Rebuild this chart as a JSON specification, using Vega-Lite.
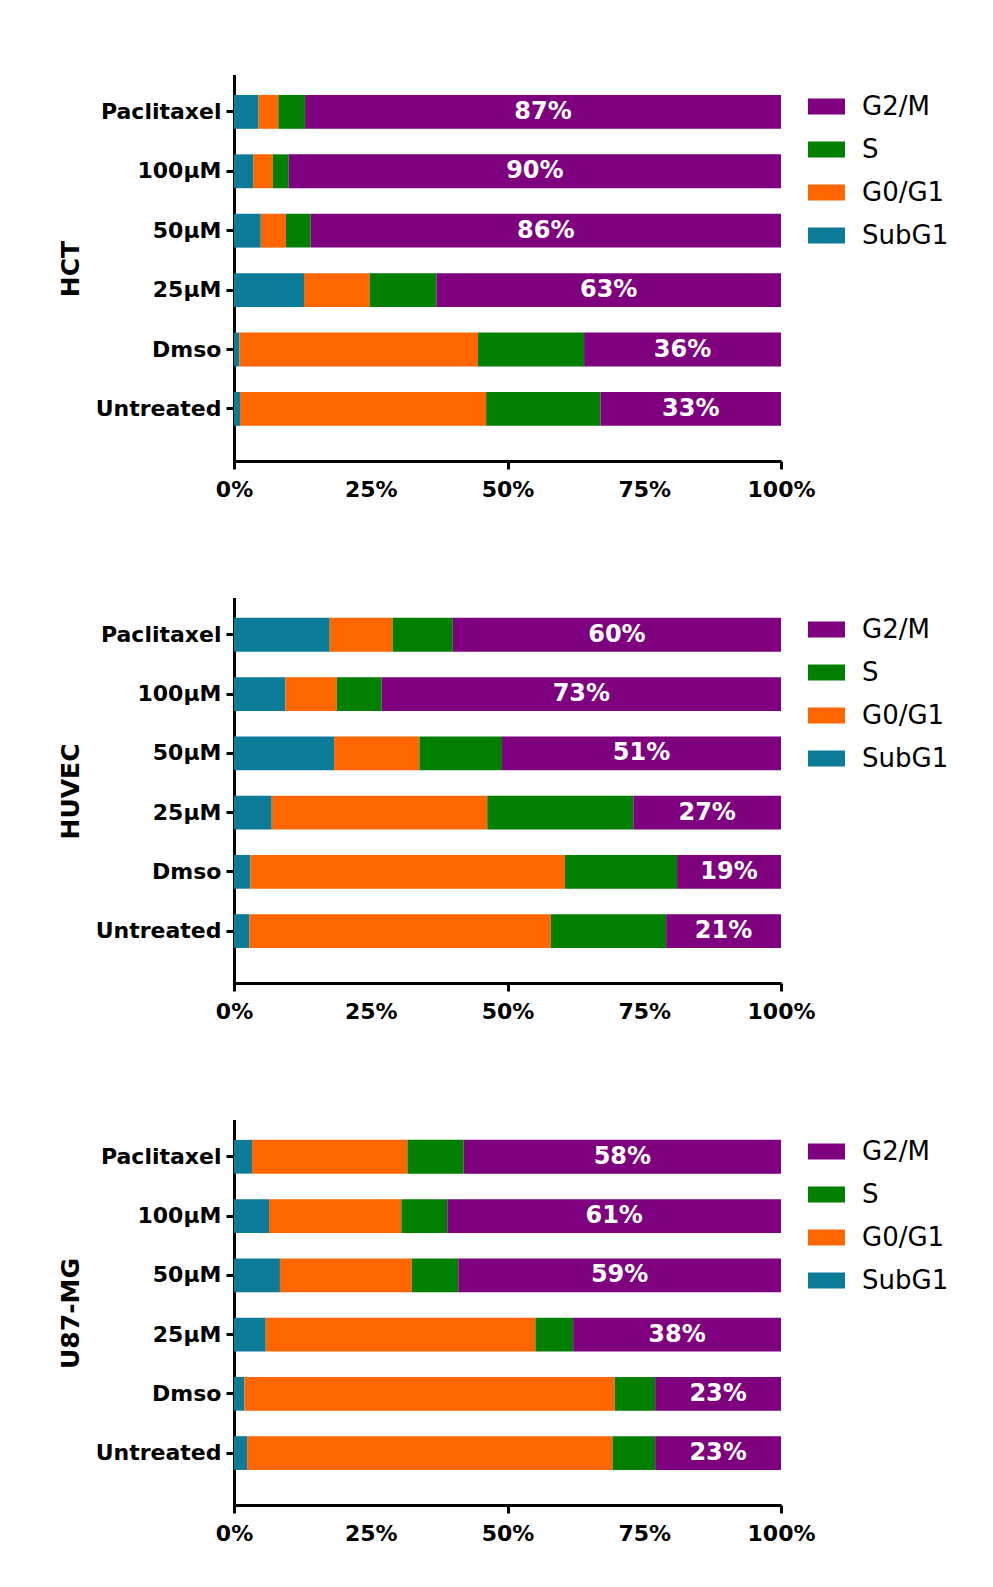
{
  "$schema": "https://vega.github.io/schema/vega-lite/v6.json",
  "padding": {"left": 58, "top": 76, "right": 5, "bottom": 5},
  "background": "white",
  "data": {
    "values": [
      {"cell": "HCT", "treatment": "Paclitaxel", "phase": "SubG1", "pct": 4.5},
      {"cell": "HCT", "treatment": "Paclitaxel", "phase": "G0/G1", "pct": 3.6},
      {"cell": "HCT", "treatment": "Paclitaxel", "phase": "S", "pct": 4.9},
      {"cell": "HCT", "treatment": "Paclitaxel", "phase": "G2/M", "pct": 87},
      {"cell": "HCT", "treatment": "100µM", "phase": "SubG1", "pct": 3.5},
      {"cell": "HCT", "treatment": "100µM", "phase": "G0/G1", "pct": 3.6},
      {"cell": "HCT", "treatment": "100µM", "phase": "S", "pct": 2.9},
      {"cell": "HCT", "treatment": "100µM", "phase": "G2/M", "pct": 90},
      {"cell": "HCT", "treatment": "50µM", "phase": "SubG1", "pct": 4.9},
      {"cell": "HCT", "treatment": "50µM", "phase": "G0/G1", "pct": 4.6},
      {"cell": "HCT", "treatment": "50µM", "phase": "S", "pct": 4.5},
      {"cell": "HCT", "treatment": "50µM", "phase": "G2/M", "pct": 86},
      {"cell": "HCT", "treatment": "25µM", "phase": "SubG1", "pct": 12.8},
      {"cell": "HCT", "treatment": "25µM", "phase": "G0/G1", "pct": 12.0},
      {"cell": "HCT", "treatment": "25µM", "phase": "S", "pct": 12.2},
      {"cell": "HCT", "treatment": "25µM", "phase": "G2/M", "pct": 63},
      {"cell": "HCT", "treatment": "Dmso", "phase": "SubG1", "pct": 1.0},
      {"cell": "HCT", "treatment": "Dmso", "phase": "G0/G1", "pct": 43.6},
      {"cell": "HCT", "treatment": "Dmso", "phase": "S", "pct": 19.4},
      {"cell": "HCT", "treatment": "Dmso", "phase": "G2/M", "pct": 36},
      {"cell": "HCT", "treatment": "Untreated", "phase": "SubG1", "pct": 1.1},
      {"cell": "HCT", "treatment": "Untreated", "phase": "G0/G1", "pct": 45.0},
      {"cell": "HCT", "treatment": "Untreated", "phase": "S", "pct": 20.9},
      {"cell": "HCT", "treatment": "Untreated", "phase": "G2/M", "pct": 33},

      {"cell": "HUVEC", "treatment": "Paclitaxel", "phase": "SubG1", "pct": 17.5},
      {"cell": "HUVEC", "treatment": "Paclitaxel", "phase": "G0/G1", "pct": 11.5},
      {"cell": "HUVEC", "treatment": "Paclitaxel", "phase": "S", "pct": 11.0},
      {"cell": "HUVEC", "treatment": "Paclitaxel", "phase": "G2/M", "pct": 60},
      {"cell": "HUVEC", "treatment": "100µM", "phase": "SubG1", "pct": 9.4},
      {"cell": "HUVEC", "treatment": "100µM", "phase": "G0/G1", "pct": 9.4},
      {"cell": "HUVEC", "treatment": "100µM", "phase": "S", "pct": 8.2},
      {"cell": "HUVEC", "treatment": "100µM", "phase": "G2/M", "pct": 73},
      {"cell": "HUVEC", "treatment": "50µM", "phase": "SubG1", "pct": 18.3},
      {"cell": "HUVEC", "treatment": "50µM", "phase": "G0/G1", "pct": 15.6},
      {"cell": "HUVEC", "treatment": "50µM", "phase": "S", "pct": 15.1},
      {"cell": "HUVEC", "treatment": "50µM", "phase": "G2/M", "pct": 51},
      {"cell": "HUVEC", "treatment": "25µM", "phase": "SubG1", "pct": 6.9},
      {"cell": "HUVEC", "treatment": "25µM", "phase": "G0/G1", "pct": 39.4},
      {"cell": "HUVEC", "treatment": "25µM", "phase": "S", "pct": 26.7},
      {"cell": "HUVEC", "treatment": "25µM", "phase": "G2/M", "pct": 27},
      {"cell": "HUVEC", "treatment": "Dmso", "phase": "SubG1", "pct": 3.0},
      {"cell": "HUVEC", "treatment": "Dmso", "phase": "G0/G1", "pct": 57.5},
      {"cell": "HUVEC", "treatment": "Dmso", "phase": "S", "pct": 20.5},
      {"cell": "HUVEC", "treatment": "Dmso", "phase": "G2/M", "pct": 19},
      {"cell": "HUVEC", "treatment": "Untreated", "phase": "SubG1", "pct": 2.8},
      {"cell": "HUVEC", "treatment": "Untreated", "phase": "G0/G1", "pct": 55.1},
      {"cell": "HUVEC", "treatment": "Untreated", "phase": "S", "pct": 21.1},
      {"cell": "HUVEC", "treatment": "Untreated", "phase": "G2/M", "pct": 21},

      {"cell": "U87-MG", "treatment": "Paclitaxel", "phase": "SubG1", "pct": 3.3},
      {"cell": "U87-MG", "treatment": "Paclitaxel", "phase": "G0/G1", "pct": 28.4},
      {"cell": "U87-MG", "treatment": "Paclitaxel", "phase": "S", "pct": 10.3},
      {"cell": "U87-MG", "treatment": "Paclitaxel", "phase": "G2/M", "pct": 58},
      {"cell": "U87-MG", "treatment": "100µM", "phase": "SubG1", "pct": 6.4},
      {"cell": "U87-MG", "treatment": "100µM", "phase": "G0/G1", "pct": 24.2},
      {"cell": "U87-MG", "treatment": "100µM", "phase": "S", "pct": 8.4},
      {"cell": "U87-MG", "treatment": "100µM", "phase": "G2/M", "pct": 61},
      {"cell": "U87-MG", "treatment": "50µM", "phase": "SubG1", "pct": 8.4},
      {"cell": "U87-MG", "treatment": "50µM", "phase": "G0/G1", "pct": 24.1},
      {"cell": "U87-MG", "treatment": "50µM", "phase": "S", "pct": 8.5},
      {"cell": "U87-MG", "treatment": "50µM", "phase": "G2/M", "pct": 59},
      {"cell": "U87-MG", "treatment": "25µM", "phase": "SubG1", "pct": 5.8},
      {"cell": "U87-MG", "treatment": "25µM", "phase": "G0/G1", "pct": 49.3},
      {"cell": "U87-MG", "treatment": "25µM", "phase": "S", "pct": 6.9},
      {"cell": "U87-MG", "treatment": "25µM", "phase": "G2/M", "pct": 38},
      {"cell": "U87-MG", "treatment": "Dmso", "phase": "SubG1", "pct": 1.9},
      {"cell": "U87-MG", "treatment": "Dmso", "phase": "G0/G1", "pct": 67.7},
      {"cell": "U87-MG", "treatment": "Dmso", "phase": "S", "pct": 7.4},
      {"cell": "U87-MG", "treatment": "Dmso", "phase": "G2/M", "pct": 23},
      {"cell": "U87-MG", "treatment": "Untreated", "phase": "SubG1", "pct": 2.4},
      {"cell": "U87-MG", "treatment": "Untreated", "phase": "G0/G1", "pct": 66.8},
      {"cell": "U87-MG", "treatment": "Untreated", "phase": "S", "pct": 7.8},
      {"cell": "U87-MG", "treatment": "Untreated", "phase": "G2/M", "pct": 23}
    ]
  },
  "transform": [
    {"calculate": "indexof(['SubG1', 'G0/G1', 'S', 'G2/M'], datum.phase)", "as": "stackRank"},
    {"calculate": "datum.pct + '%'", "as": "pctLabel"}
  ],
  "spacing": 138,
  "bounds": "flush",
  "resolve": {"legend": {"color": "independent"}},
  "vconcat": [
    {
      "width": 547, "height": 385,
      "transform": [{"filter": "datum.cell === 'HCT'"}],
      "encoding": {
        "y": {"field": "treatment", "type": "nominal", "title": "HCT",
              "scale": {"domain": ["Paclitaxel", "100µM", "50µM", "25µM", "Dmso", "Untreated"], "paddingInner": 0.43, "paddingOuter": 0.455, "align": 0.35}}
      },
      "layer": [
        {"mark": {"type": "bar"},
         "encoding": {
           "x": {"field": "pct", "type": "quantitative", "stack": "zero", "title": null,
                 "scale": {"domain": [0, 100], "nice": false},
                 "axis": {"values": [0, 25, 50, 75, 100], "labelExpr": "datum.value + '%'",
                          "tickOpacity": {"condition": {"test": "datum.value === 25 || datum.value === 75", "value": 0}, "value": 1}}},
           "color": {"field": "phase", "type": "nominal", "title": null,
                     "scale": {"domain": ["G2/M", "S", "G0/G1", "SubG1"], "range": ["#7f007f", "#007f00", "#ff6600", "#0b7b98"]}},
           "order": {"field": "stackRank", "type": "quantitative"}
         }},
        {"transform": [{"filter": "datum.phase === 'G2/M'"}, {"calculate": "100 - datum.pct / 2", "as": "mid"}],
         "mark": {"type": "text", "color": "white", "font": "DejaVu Sans", "fontWeight": "bold", "fontSize": 24, "align": "center", "baseline": "middle"},
         "encoding": {
           "x": {"field": "mid", "type": "quantitative"},
           "text": {"field": "pctLabel", "type": "nominal"}
         }}
      ]
    },
    {
      "width": 547, "height": 384,
      "transform": [{"filter": "datum.cell === 'HUVEC'"}],
      "encoding": {
        "y": {"field": "treatment", "type": "nominal", "title": "HUVEC",
              "scale": {"domain": ["Paclitaxel", "100µM", "50µM", "25µM", "Dmso", "Untreated"], "paddingInner": 0.43, "paddingOuter": 0.455, "align": 0.35}}
      },
      "layer": [
        {"mark": {"type": "bar"},
         "encoding": {
           "x": {"field": "pct", "type": "quantitative", "stack": "zero", "title": null,
                 "scale": {"domain": [0, 100], "nice": false},
                 "axis": {"values": [0, 25, 50, 75, 100], "labelExpr": "datum.value + '%'",
                          "tickOpacity": {"condition": {"test": "datum.value === 25 || datum.value === 75", "value": 0}, "value": 1}}},
           "color": {"field": "phase", "type": "nominal", "title": null,
                     "scale": {"domain": ["G2/M", "S", "G0/G1", "SubG1"], "range": ["#7f007f", "#007f00", "#ff6600", "#0b7b98"]}},
           "order": {"field": "stackRank", "type": "quantitative"}
         }},
        {"transform": [{"filter": "datum.phase === 'G2/M'"}, {"calculate": "100 - datum.pct / 2", "as": "mid"}],
         "mark": {"type": "text", "color": "white", "font": "DejaVu Sans", "fontWeight": "bold", "fontSize": 24, "align": "center", "baseline": "middle"},
         "encoding": {
           "x": {"field": "mid", "type": "quantitative"},
           "text": {"field": "pctLabel", "type": "nominal"}
         }}
      ]
    },
    {
      "width": 547, "height": 384,
      "transform": [{"filter": "datum.cell === 'U87-MG'"}],
      "encoding": {
        "y": {"field": "treatment", "type": "nominal", "title": "U87-MG",
              "scale": {"domain": ["Paclitaxel", "100µM", "50µM", "25µM", "Dmso", "Untreated"], "paddingInner": 0.43, "paddingOuter": 0.455, "align": 0.35}}
      },
      "layer": [
        {"mark": {"type": "bar"},
         "encoding": {
           "x": {"field": "pct", "type": "quantitative", "stack": "zero", "title": null,
                 "scale": {"domain": [0, 100], "nice": false},
                 "axis": {"values": [0, 25, 50, 75, 100], "labelExpr": "datum.value + '%'",
                          "tickOpacity": {"condition": {"test": "datum.value === 25 || datum.value === 75", "value": 0}, "value": 1}}},
           "color": {"field": "phase", "type": "nominal", "title": null,
                     "scale": {"domain": ["G2/M", "S", "G0/G1", "SubG1"], "range": ["#7f007f", "#007f00", "#ff6600", "#0b7b98"]}},
           "order": {"field": "stackRank", "type": "quantitative"}
         }},
        {"transform": [{"filter": "datum.phase === 'G2/M'"}, {"calculate": "100 - datum.pct / 2", "as": "mid"}],
         "mark": {"type": "text", "color": "white", "font": "DejaVu Sans", "fontWeight": "bold", "fontSize": 24, "align": "center", "baseline": "middle"},
         "encoding": {
           "x": {"field": "mid", "type": "quantitative"},
           "text": {"field": "pctLabel", "type": "nominal"}
         }}
      ]
    }
  ],
  "config": {
    "view": {"stroke": null},
    "font": "DejaVu Sans",
    "axis": {
      "domainColor": "black", "domainWidth": 3, "tickColor": "black", "tickWidth": 3, "tickSize": 8,
      "labelFont": "DejaVu Sans", "labelFontWeight": "bold", "labelFontSize": 22, "labelColor": "black",
      "titleFont": "DejaVu Sans", "titleFontWeight": "bold", "titleFontSize": 25, "titleColor": "black",
      "grid": false
    },
    "axisY": {"labelPadding": 5, "titlePadding": 12, "domainCap": "square"},
    "axisX": {"labelPadding": 10, "labelFlush": false},
    "legend": {
      "orient": "none", "legendX": 574, "legendY": 12,
      "symbolType": "M-1,-0.432L1,-0.432L1,0.432L-1,0.432Z",
      "symbolSize": 1369, "symbolStrokeWidth": 0, "symbolOpacity": 1,
      "labelFont": "DejaVu Sans", "labelFontSize": 26, "labelColor": "black", "labelOffset": 17,
      "rowPadding": 11, "padding": 0
    }
  }
}
